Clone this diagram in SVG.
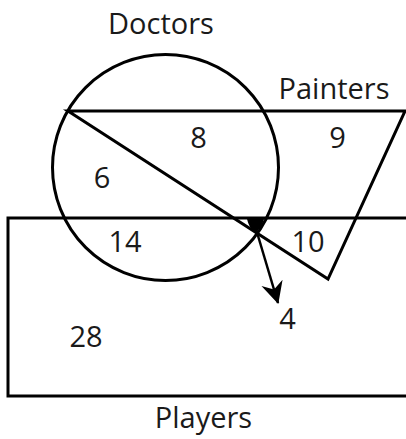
<svg xmlns="http://www.w3.org/2000/svg" width="406" height="439" viewBox="0 0 406 439">
<style>
.s{fill:none;stroke:#000;stroke-width:3;stroke-linejoin:miter}
text{font-family:"Open Sans","Liberation Sans",sans-serif;font-size:29px;fill:#1a1a1a;text-anchor:middle}
</style>
<defs>
<marker id="ah" viewBox="0 0 22 24" refX="21" refY="12" markerWidth="22" markerHeight="24" markerUnits="userSpaceOnUse" orient="auto">
<path d="M0,1 L22,12 L0,23 L7,12 Z" fill="#000"/>
</marker>
</defs>
<rect width="406" height="439" fill="#fff"/>
<g id="players">
<path class="s" d="M410,218 L8,218 L8,396 L410,396"/>
<text x="203.5" y="428">Players</text>
</g>
<g id="doctors">
<circle class="s" cx="165.5" cy="167.5" r="113"/>
<text x="161" y="34">Doctors</text>
</g>
<g id="painters">
<path class="s" d="M68,111 L405,111 L328,279 Z"/>
<text x="334" y="99">Painters</text>
</g>
<g id="labels">
<text x="198.5" y="148">8</text>
<text x="337.5" y="148">9</text>
<text x="102" y="188">6</text>
<text x="125" y="252">14</text>
<text x="308" y="252">10</text>
<text x="86" y="347">28</text>
<text x="287.5" y="329">4</text>
</g>
<g id="connectors">
<path d="M247,219 L264,219 Q262,228 255,233 Q249,228 247,219 Z" fill="#000"/>
<line x1="256" y1="229" x2="278" y2="303" stroke="#000" stroke-width="2.5" marker-end="url(#ah)"/>
</g>
</svg>
